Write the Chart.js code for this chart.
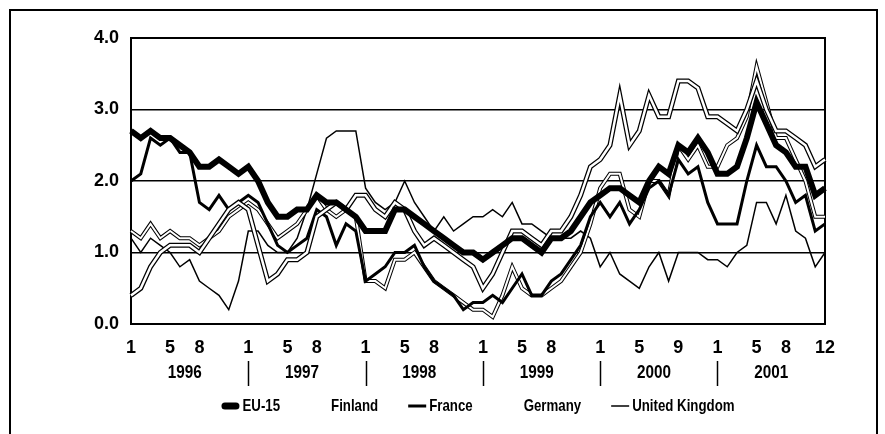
<!DOCTYPE html>
<html>
<head>
<meta charset="utf-8">
<script src="https://cdn.jsdelivr.net/npm/chart.js@4/dist/chart.umd.min.js"></script>
<style>
html,body{margin:0;padding:0;background:#fff;}
#wrap{position:relative;width:885px;height:434px;}
</style>
</head>
<body>
<div id="wrap"><canvas id="c" width="885" height="434"></canvas></div>
<script>
// ---- data ----
const years = ['1996','1997','1998','1999','2000','2001'];
const categories = [];
years.forEach(y => { for (let m = 1; m <= 12; m++) categories.push(y + '-' + String(m).padStart(2,'0')); });

const monthTickLabels = [
  '1','','','','5','','','8','','','','',
  '1','','','','5','','','8','','','','',
  '1','','','','5','','','8','','','','',
  '1','','','','5','','','8','','','','',
  '1','','','','5','','','','9','','','',
  '1','','','','5','','','8','','','','12'
];
const yTickValues = [0, 1, 2, 3, 4];

const eu15 = [
  2.7, 2.6, 2.7, 2.6, 2.6, 2.5, 2.4, 2.2, 2.2, 2.3, 2.2, 2.1,
  2.2, 2.0, 1.7, 1.5, 1.5, 1.6, 1.6, 1.8, 1.7, 1.7, 1.6, 1.5,
  1.3, 1.3, 1.3, 1.6, 1.6, 1.5, 1.4, 1.3, 1.2, 1.1, 1.0, 1.0,
  0.9, 1.0, 1.1, 1.2, 1.2, 1.1, 1.0, 1.2, 1.2, 1.3, 1.5, 1.7,
  1.8, 1.9, 1.9, 1.8, 1.7, 2.0, 2.2, 2.1, 2.5, 2.4, 2.6, 2.4,
  2.1, 2.1, 2.2, 2.6, 3.1, 2.8, 2.5, 2.4, 2.2, 2.2, 1.8, 1.9
];
const finland = [
  0.4, 0.5, 0.8, 1.0, 1.1, 1.1, 1.1, 1.0, 1.2, 1.4, 1.6, 1.7,
  1.6, 1.1, 0.6, 0.7, 0.9, 0.9, 1.0, 1.5, 1.6, 1.7, 1.6, 1.8,
  1.8, 1.6, 1.5, 1.7, 1.6, 1.3, 1.1, 1.2, 1.1, 1.0, 0.9, 0.8,
  0.5, 0.7, 1.0, 1.3, 1.3, 1.2, 1.1, 1.3, 1.3, 1.5, 1.8, 2.2,
  2.3, 2.5, 3.2, 2.5, 2.7, 3.2, 2.9, 2.9, 3.4, 3.4, 3.3, 2.9,
  2.9, 2.8, 2.7, 3.0, 3.4, 3.0, 2.7, 2.7, 2.6, 2.5, 2.2, 2.3
];
const france = [
  2.0, 2.1, 2.6, 2.5, 2.6, 2.4, 2.4, 1.7, 1.6, 1.8, 1.6, 1.7,
  1.8, 1.7, 1.4, 1.1, 1.0, 1.1, 1.2, 1.6, 1.5, 1.1, 1.4, 1.3,
  0.6, 0.7, 0.8, 1.0, 1.0, 1.1, 0.8, 0.6, 0.5, 0.4, 0.2, 0.3,
  0.3, 0.4, 0.3, 0.5, 0.7, 0.4, 0.4, 0.6, 0.7, 0.9, 1.1, 1.5,
  1.7, 1.5, 1.7, 1.4, 1.6, 1.9, 2.0, 1.8, 2.3, 2.1, 2.2, 1.7,
  1.4, 1.4, 1.4, 2.0, 2.5, 2.2, 2.2, 2.0, 1.7, 1.8, 1.3, 1.4
];
const germany = [
  1.3, 1.2, 1.4, 1.2, 1.3, 1.2, 1.2, 1.1, 1.2, 1.3, 1.5, 1.6,
  1.7, 1.6, 1.4, 1.2, 1.3, 1.4, 1.6, 1.8, 1.6, 1.5, 1.6, 1.5,
  0.6, 0.6, 0.5, 0.9, 0.9, 1.0, 0.8, 0.6, 0.5, 0.4, 0.3, 0.2,
  0.2, 0.1, 0.4, 0.8, 0.5, 0.4, 0.4, 0.5, 0.6, 0.8, 1.0, 1.4,
  1.9, 2.1, 2.1, 1.6, 1.5, 2.0, 2.0, 1.8, 2.5, 2.3, 2.5, 2.2,
  2.2, 2.5, 2.6, 2.9, 3.6, 3.1, 2.6, 2.6, 2.3, 2.0, 1.5, 1.5
];
const uk = [
  1.2, 1.0, 1.2, 1.1, 1.0, 0.8, 0.9, 0.6, 0.5, 0.4, 0.2, 0.6,
  1.3, 1.3, 1.1, 1.0, 1.0, 1.2, 1.6, 2.1, 2.6, 2.7, 2.7, 2.7,
  1.9, 1.7, 1.6, 1.7, 2.0, 1.7, 1.5, 1.3, 1.5, 1.3, 1.4, 1.5,
  1.5, 1.6, 1.5, 1.7, 1.4, 1.4, 1.3, 1.2, 1.2, 1.2, 1.3, 1.2,
  0.8, 1.0, 0.7, 0.6, 0.5, 0.8, 1.0, 0.6, 1.0, 1.0, 1.0, 0.9,
  0.9, 0.8, 1.0, 1.1, 1.7, 1.7, 1.4, 1.8, 1.3, 1.2, 0.8, 1.0
];
const seriesNames = ['EU-15', 'Finland', 'France', 'Germany', 'United Kingdom'];

// ---- styling ----
const FONT = "'Liberation Sans', Arial, sans-serif";

// draw text horizontally condensed (still real canvas text)
function condensedText(ctx, text, x, y, factor) {
  const w = ctx.measureText(text).width * factor;
  ctx.fillText(text, x, y, w);
  return w;
}

const outlinePlugin = {
  id: 'outline',
  beforeDatasetDraw(chart, args) {
    const ds = chart.data.datasets[args.index];
    if (!ds.outlineColor) return;
    const pts = args.meta.data;
    const ctx = chart.ctx;
    ctx.save();
    ctx.beginPath();
    pts.forEach((p, i) => i ? ctx.lineTo(p.x, p.y) : ctx.moveTo(p.x, p.y));
    ctx.lineWidth = ds.outlineWidth;
    ctx.strokeStyle = ds.outlineColor;
    ctx.lineJoin = 'miter';
    ctx.stroke();
    ctx.restore();
  }
};

const framePlugin = {
  id: 'frame',
  beforeDatasetsDraw(chart) {
    const {ctx, chartArea: a} = chart;
    ctx.save();
    ctx.strokeStyle = '#000';
    ctx.lineWidth = 2;
    ctx.strokeRect(a.left, a.top, a.right - a.left, a.bottom - a.top);
    ctx.restore();
  },
  afterDraw(chart) {
    const ctx = chart.ctx;
    ctx.save();
    ctx.strokeStyle = '#000';
    ctx.lineWidth = 2;
    ctx.beginPath();
    ctx.moveTo(10, 434); ctx.lineTo(10, 10); ctx.lineTo(877, 10); ctx.lineTo(877, 434);
    ctx.stroke();
    ctx.restore();
  }
};

const yearPlugin = {
  id: 'years',
  afterDraw(chart) {
    const ctx = chart.ctx;
    const xs = chart.scales.x;
    ctx.save();
    ctx.fillStyle = '#000';
    ctx.strokeStyle = '#000';
    ctx.font = 'bold 18px ' + FONT;
    ctx.textAlign = 'center';
    ctx.textBaseline = 'middle';
    years.forEach((y, k) => {
      const x0 = xs.getPixelForValue(k * 12);
      const x1 = xs.getPixelForValue(k * 12 + 11);
      condensedText(ctx, y, (x0 + x1) / 2, 373, 0.85);
      if (k > 0) {
        ctx.lineWidth = 1.5;
        ctx.beginPath();
        ctx.moveTo(Math.round(x0) + 0.5, 361);
        ctx.lineTo(Math.round(x0) + 0.5, 386);
        ctx.stroke();
      }
    });
    ctx.restore();
  }
};

const legendPlugin = {
  id: 'customLegend',
  afterDraw(chart) {
    const ctx = chart.ctx;
    const a = chart.chartArea;
    const factor = 0.78, sw = 18, sgap = 3, gap = 30, y = 406;
    ctx.save();
    ctx.font = 'bold 17px ' + FONT;
    ctx.textBaseline = 'middle';
    ctx.textAlign = 'left';
    const items = chart.data.datasets.map(ds => ({ds, w: ctx.measureText(ds.label).width * factor}));
    const total = items.reduce((s, it) => s + sw + sgap + it.w, 0) + gap * (items.length - 1);
    let x = (a.left + a.right) / 2 - total / 2;
    items.forEach(({ds, w}) => {
      if (ds.legendLineWidth > 0) {
        ctx.strokeStyle = '#000';
        ctx.lineWidth = ds.legendLineWidth;
        const round = ds.legendLineWidth > 4;
        ctx.lineCap = round ? 'round' : 'butt';
        const inset = round ? ds.legendLineWidth / 2 : 0;
        ctx.beginPath();
        ctx.moveTo(x + inset, y); ctx.lineTo(x + sw - inset, y);
        ctx.stroke();
      }
      ctx.fillStyle = '#000';
      ctx.fillText(ds.label, x + sw + sgap, y, w);
      x += sw + sgap + w + gap;
    });
    ctx.restore();
  }
};

const datasets = [
  {label: seriesNames[0], data: eu15, borderColor: '#000', borderWidth: 6, legendLineWidth: 7},
  {label: seriesNames[1], data: finland, borderColor: '#fff', borderWidth: 2.5, outlineColor: '#000', outlineWidth: 5, legendLineWidth: 0},
  {label: seriesNames[2], data: france, borderColor: '#000', borderWidth: 3, legendLineWidth: 3},
  {label: seriesNames[3], data: germany, borderColor: '#fff', borderWidth: 2, outlineColor: '#000', outlineWidth: 4, legendLineWidth: 0},
  {label: seriesNames[4], data: uk, borderColor: '#000', borderWidth: 1.5, legendLineWidth: 1.5}
].map(d => Object.assign({pointRadius: 0, pointHoverRadius: 0, tension: 0, fill: false, borderJoinStyle: 'miter'}, d));

new Chart(document.getElementById('c'), {
  type: 'line',
  data: {labels: categories, datasets},
  options: {
    responsive: false,
    animation: false,
    devicePixelRatio: 1,
    events: [],
    layout: {padding: {left: 0, right: 60, top: 38, bottom: 0}},
    plugins: {legend: {display: false}, tooltip: {enabled: false}},
    scales: {
      x: {
        offset: false,
        grid: {display: false, drawTicks: false},
        border: {display: true, color: '#000', width: 2},
        ticks: {
          autoSkip: false, maxRotation: 0, minRotation: 0, padding: 13,
          color: '#000', font: {family: FONT, size: 18, weight: 'bold'},
          callback: (v, i) => monthTickLabels[i]
        },
        afterFit: s => { s.height = 110; }
      },
      y: {
        min: 0, max: 4,
        afterBuildTicks: s => { s.ticks = yTickValues.map(v => ({value: v})); },
        grid: {color: '#000', lineWidth: 1.5, drawTicks: false},
        border: {display: true, color: '#000', width: 2},
        ticks: {
          padding: 12, color: '#000',
          font: {family: FONT, size: 18, weight: 'bold'},
          callback: v => Number(v).toFixed(1)
        },
        afterFit: s => { s.width = 131; }
      }
    }
  },
  plugins: [outlinePlugin, framePlugin, yearPlugin, legendPlugin]
});
</script>
</body>
</html>
